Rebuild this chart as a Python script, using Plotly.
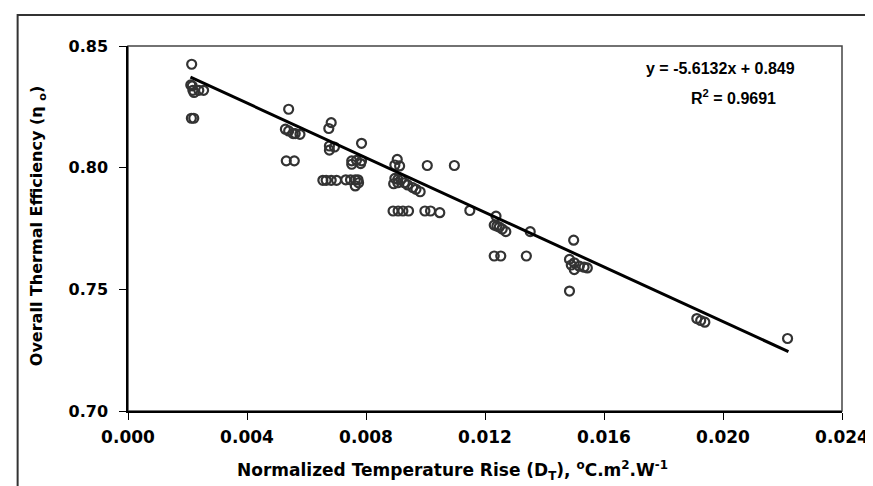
import plotly.graph_objects as go

# ---- data ----
dt_values = [
    0.00214, 0.00211, 0.00216, 0.00218, 0.00222, 0.00238, 0.00254, 0.00213, 0.00221,
    0.00540, 0.00529, 0.00540, 0.00562, 0.00578, 0.00555, 0.00532, 0.00559,
    0.00683, 0.00675, 0.00677, 0.00694, 0.00677, 0.00655, 0.00666, 0.00683, 0.00701,
    0.00785, 0.00752, 0.00768, 0.00785, 0.00752, 0.00782, 0.00732, 0.00748, 0.00764, 0.00773, 0.00764, 0.00775,
    0.00905, 0.00897, 0.00913, 0.01006, 0.01097, 0.00897, 0.00907, 0.00918, 0.00929, 0.00940, 0.00957,
    0.00968, 0.00982, 0.00893, 0.00907, 0.00891, 0.00908, 0.00924, 0.00943, 0.00998, 0.01017, 0.01048, 0.01149,
    0.01237, 0.01231, 0.01240, 0.01248, 0.01258, 0.01270, 0.01352, 0.01231, 0.01253, 0.01339,
    0.01498, 0.01484, 0.01500, 0.01517, 0.01533, 0.01544, 0.01500, 0.01490, 0.01484,
    0.01912, 0.01925, 0.01939, 0.02217,
]
efficiency = [
    0.8425, 0.8340, 0.8336, 0.8318, 0.8309, 0.8318, 0.8318, 0.8203, 0.8203,
    0.8240, 0.8158, 0.8151, 0.8140, 0.8137, 0.8140, 0.8028, 0.8028,
    0.8185, 0.8161, 0.8089, 0.8085, 0.8072, 0.7948, 0.7948, 0.7948, 0.7948,
    0.8100, 0.8028, 0.8030, 0.8028, 0.8014, 0.8017, 0.7950, 0.7950, 0.7950, 0.7950, 0.7925, 0.7938,
    0.8034, 0.8011, 0.8007, 0.8009, 0.8009, 0.7956, 0.7952, 0.7952, 0.7938, 0.7929, 0.7918,
    0.7911, 0.7901, 0.7934, 0.7938, 0.7822, 0.7822, 0.7822, 0.7822, 0.7822, 0.7822, 0.7815, 0.7824,
    0.7801, 0.7764, 0.7760, 0.7756, 0.7748, 0.7737, 0.7737, 0.7637, 0.7637, 0.7637,
    0.7702, 0.7623, 0.7609, 0.7595, 0.7591, 0.7588, 0.7581, 0.7600, 0.7493,
    0.7380, 0.7372, 0.7365, 0.7298,
]

fit_slope = -5.6132
fit_intercept = 0.849
fit_x_range = [0.0021, 0.0222]
fit_y = [fit_intercept + fit_slope * x for x in fit_x_range]

x_ticks = [0.000, 0.004, 0.008, 0.012, 0.016, 0.020, 0.024]
x_tick_labels = ["0.000", "0.004", "0.008", "0.012", "0.016", "0.020", "0.024"]
y_ticks = [0.70, 0.75, 0.80, 0.85]
y_tick_labels = ["0.70", "0.75", "0.80", "0.85"]

W, H = 873, 486
ML, MR, MT, MB = 120, 22, 38, 83
pw = W - ML - MR
ph = H - MT - MB

def px_to_paper_x(px):
    return (px - ML) / pw

def py_to_paper_y(py):
    return (H - MB - py) / ph

BOLD_WIDE = "DejaVu Sans"
BOLD_ARIAL = "Liberation Sans, Arial"

fig = go.Figure()
fig.add_trace(go.Scatter(
    x=dt_values, y=efficiency, mode="markers",
    marker=dict(symbol="circle-open", size=9, color="#333333", line=dict(width=2.2, color="#333333")),
    showlegend=False, hoverinfo="x+y",
))
fig.add_trace(go.Scatter(
    x=fit_x_range, y=fit_y, mode="lines",
    line=dict(color="black", width=3), showlegend=False,
))

fig.update_layout(
    width=W, height=H,
    margin=dict(l=ML, r=MR, t=MT, b=MB),
    paper_bgcolor="white", plot_bgcolor="white",
    font=dict(family=BOLD_ARIAL, color="black"),
    xaxis=dict(
        range=[0, 0.024], tickmode="array", tickvals=x_ticks, ticktext=x_tick_labels,
        ticks="outside", ticklen=7, tickcolor="black", tickwidth=1,
        showline=True, linecolor="black", linewidth=1.5, showgrid=False, zeroline=False,
        ticklabeloverflow="allow", ticklabelstandoff=3,
        tickfont=dict(family=BOLD_WIDE, size=17, color="black", weight="bold"),
    ),
    yaxis=dict(
        range=[0.70, 0.85], tickmode="array", tickvals=y_ticks, ticktext=y_tick_labels,
        ticks="outside", ticklen=7, tickcolor="black", tickwidth=1,
        showline=True, linecolor="black", linewidth=1.5, showgrid=False, zeroline=False,
        ticklabelstandoff=8,
        tickfont=dict(family=BOLD_WIDE, size=16, color="black", weight="bold"),
    ),
    shapes=[
        dict(type="rect", xref="paper", yref="paper", x0=0, y0=0, x1=1, y1=1,
             line=dict(color="#444444", width=1.5), layer="below"),
        dict(type="rect", xref="paper", yref="paper",
             x0=px_to_paper_x(7), y0=py_to_paper_y(520), x1=px_to_paper_x(890), y1=py_to_paper_y(7),
             line=dict(color="#333333", width=2)),
    ],
    annotations=[
        dict(text="<b>y = -5.6132x + 0.849</b>", xref="paper", yref="paper",
             x=px_to_paper_x(805), y=py_to_paper_y(61), showarrow=False,
             xanchor="right", yanchor="middle",
             font=dict(family=BOLD_ARIAL, size=16, color="black")),
        dict(text="<b>R<sup>2</sup> = 0.9691</b>", xref="paper", yref="paper",
             x=px_to_paper_x(740), y=py_to_paper_y(89), showarrow=False,
             xanchor="center", yanchor="middle",
             font=dict(family=BOLD_ARIAL, size=16, color="black")),
        dict(text="<b>Overall Thermal Efficiency (η <sub>o</sub>)</b>", xref="paper", yref="paper",
             x=px_to_paper_x(27), y=py_to_paper_y(218), showarrow=False, textangle=-90,
             xanchor="center", yanchor="middle",
             font=dict(family=BOLD_WIDE, size=16, color="black")),
        dict(text="<b>Normalized Temperature Rise (D<sub>T</sub>), <sup>o</sup>C.m<sup>2</sup>.W<sup>-1</sup></b>",
             xref="paper", yref="paper",
             x=px_to_paper_x(452), y=py_to_paper_y(462), showarrow=False,
             xanchor="center", yanchor="middle",
             font=dict(family=BOLD_WIDE, size=17, color="black")),
    ],
)

fig.write_html("out.html")
